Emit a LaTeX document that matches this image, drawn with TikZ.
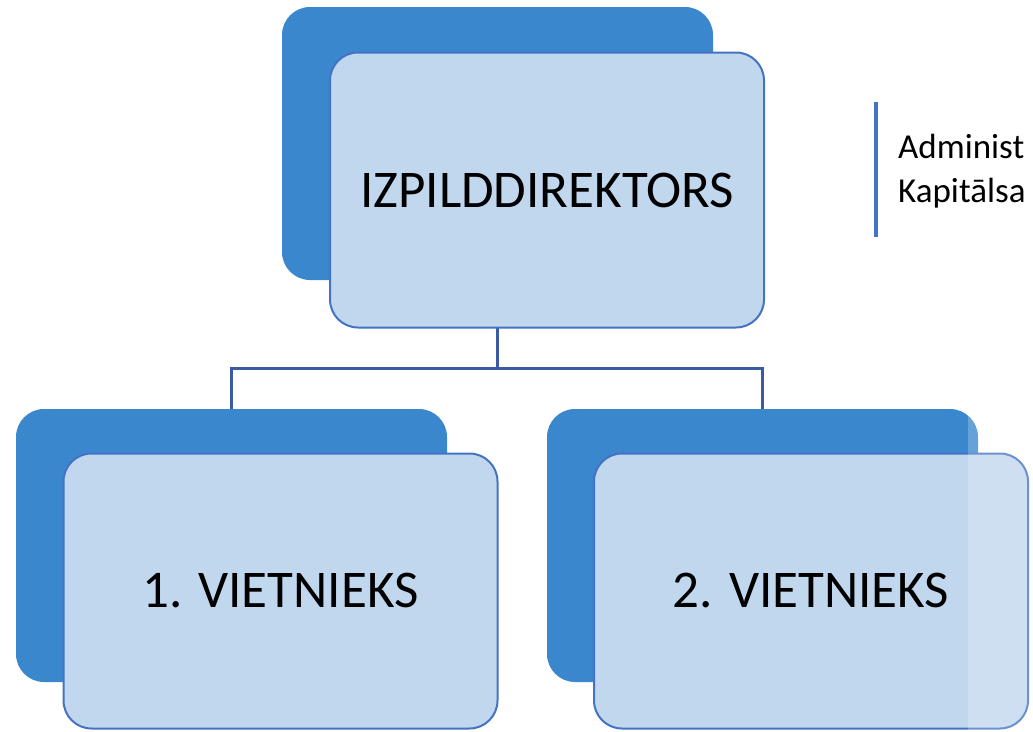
\documentclass[tikz,border=0pt]{standalone}
\usepackage{fontspec}
\setmainfont{Carlito}
\usepackage{tikz}

\definecolor{backblue}{HTML}{3B87CE}
\definecolor{frontfill}{HTML}{C0D7EE}
\definecolor{frontline}{HTML}{4472C4}
\definecolor{linkblue}{HTML}{3A5BA4}

\begin{document}
\begin{tikzpicture}[x=1pt,y=-1pt,
  backbox/.style={fill=backblue, rounded corners=28pt, inner sep=0pt,
    minimum width=431pt, minimum height=273pt},
  frontbox/.style={fill=frontfill, draw=frontline, line width=2pt,
    rounded corners=28pt, inner sep=0pt,
    minimum width=434pt, minimum height=275pt,
    font=\fontsize{53}{62}\selectfont},
  notetext/.style={anchor=base west, inner sep=0pt, font=\fontsize{35}{44}\selectfont},
  link/.style={draw=linkblue, line width=3pt}]
\useasboundingbox (0,0) rectangle (1033,731);
% back boxes
\node[backbox] (topback) at (497.5,143.5) {};
\node[backbox] (leftback) at (231.5,545.5) {};
\node[backbox] (rightback) at (762.5,545.5) {};
% connectors
\coordinate (split) at (497.5,368);
\draw[link] (topback.south) -- (split);
\draw[link] (leftback.north) |- (split) -| (rightback.north);
% front boxes
\node[frontbox] (topfront) at (547,190) {IZPILDDIREKTORS};
\node[frontbox] (leftfront) at (280.5,591) {1. VIETNIEKS};
\node[frontbox] (rightfront) at (811,591) {2. VIETNIEKS};
% side note
\draw[frontline, line width=4.5pt] (876,102) -- (876,237);
\node[notetext] (admintext) at (898,158) {Administ};
\node[notetext] (kaptext) at (898,202) {Kapitālsa};
% lighter strip at the right
\fill[white, opacity=0.22] (968,400) rectangle (1033,731);
\end{tikzpicture}
\end{document}
